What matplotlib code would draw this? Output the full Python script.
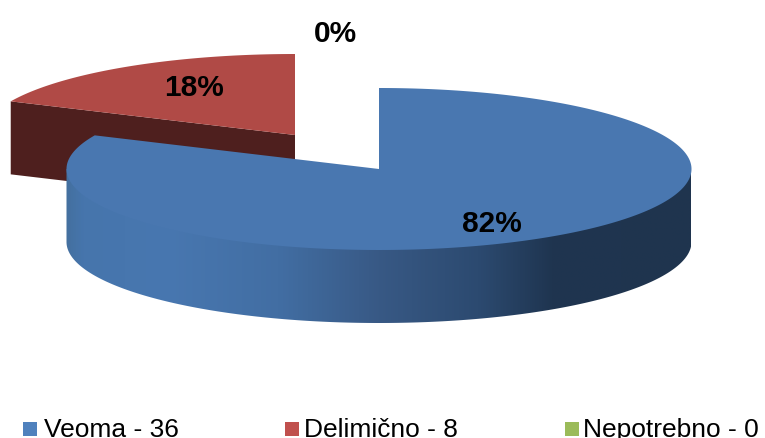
import numpy as np
import matplotlib
matplotlib.use("Agg")
import matplotlib.pyplot as plt
from matplotlib.colors import LinearSegmentedColormap
from matplotlib.patches import Polygon, Rectangle

plt.rcParams["font.family"] = ["Liberation Sans", "DejaVu Sans"]

# Survey answers
categories = ["Veoma", "Delimično", "Nepotrebno"]
counts = [36, 8, 0]

# Slice colours: top surface, cut face and legend swatch
top_colors = ["#4977B0", "#B04A46", "#9BBB59"]
legend_colors = ["#4F81BD", "#C0504D", "#9BBB59"]
cut_color = "#4E1F1E"

# Pie projection, in pixels
RX, RY, DEPTH = 312.5, 81.0, 73.0
CENTER = (379.0, 170.0)
RED_CENTER = (295.0, 136.0)

fig = plt.figure(figsize=(7.65, 4.39), dpi=100, facecolor="white")
ax = fig.add_axes([0, 0, 1, 1])
ax.axis("off")


def rim(center, start, end, drop=0.0, n=240):
    """Points on the projected pie edge; angles run clockwise from 12 o'clock."""
    t = np.radians(np.linspace(start, end, n))
    return np.column_stack(
        [center[0] + RX * np.sin(t), center[1] - RY * np.cos(t) + drop]
    )


total = sum(counts)
shares = [c / total for c in counts]
blue_end = shares[0] * 360.0

# Pulled-out slice: cut face first, then its top surface
edge_pt = rim(RED_CENTER, blue_end, blue_end, n=1)[0]
face = [RED_CENTER, edge_pt, edge_pt + [0, DEPTH], np.array(RED_CENTER) + [0, DEPTH]]
ax.add_patch(Polygon(face, closed=True, fc=cut_color, ec="none", zorder=1))
ax.add_patch(
    Polygon(
        np.vstack([[RED_CENTER], rim(RED_CENTER, blue_end, 360.0)]),
        closed=True, fc=top_colors[1], ec="none", zorder=2,
    )
)

# Outer wall of the large slice, shaded from left to right
wall_cmap = LinearSegmentedColormap.from_list(
    "wall",
    [
        (0.000, "#44709F"),
        (0.025, "#4675AC"),
        (0.160, "#4877B0"),
        (0.340, "#426EA3"),
        (0.500, "#385985"),
        (0.660, "#2C4A70"),
        (0.780, "#1F3550"),
        (1.000, "#1F344E"),
    ],
)
# The wall's upper boundary runs straight under the top surface, so no seam shows
wall_path = np.vstack(
    [
        rim(CENTER, 270, 270, n=1),
        rim(CENTER, 270, 90, drop=DEPTH),
        rim(CENTER, 90, 90, n=1),
    ]
)
wall_patch = Polygon(wall_path, closed=True, fc="none", ec="none", zorder=3)
ax.add_patch(wall_patch)
image = ax.imshow(
    np.linspace(0, 1, 512)[None, :],
    cmap=wall_cmap,
    extent=(CENTER[0] - RX, CENTER[0] + RX, CENTER[1] + RY + DEPTH, CENTER[1]),
    aspect="auto",
    interpolation="bilinear",
    zorder=3,
)
image.set_clip_path(wall_patch)

# Top surface of the large slice
ax.add_patch(
    Polygon(
        np.vstack([[CENTER], rim(CENTER, 0.0, blue_end, n=480)]),
        closed=True, fc=top_colors[0], ec="none", zorder=4,
    )
)

# Percentage labels
label_xy = [(491.5, 224), (194, 87.5), (335.5, 33.5)]
for share, (x, y) in zip(shares, label_xy):
    ax.text(
        x, y, f"{share * 100:.0f}%", ha="center", va="center",
        fontsize=21.5, fontweight="bold", color="black", zorder=5,
    )

# Legend row along the bottom edge
swatch_x = [23, 285, 565]
text_x = [44, 304, 583]
for name, count, color, sx, tx in zip(categories, counts, legend_colors, swatch_x, text_x):
    ax.add_patch(Rectangle((sx, 423), 14, 14, fc=color, ec="none", zorder=5))
    ax.text(tx, 437, f"{name} - {count}", ha="left", va="baseline",
            fontsize=19, color="black", zorder=5)

ax.set_xlim(0, 765)
ax.set_ylim(439, 0)

fig.savefig("out.png", dpi=100, facecolor="white")
